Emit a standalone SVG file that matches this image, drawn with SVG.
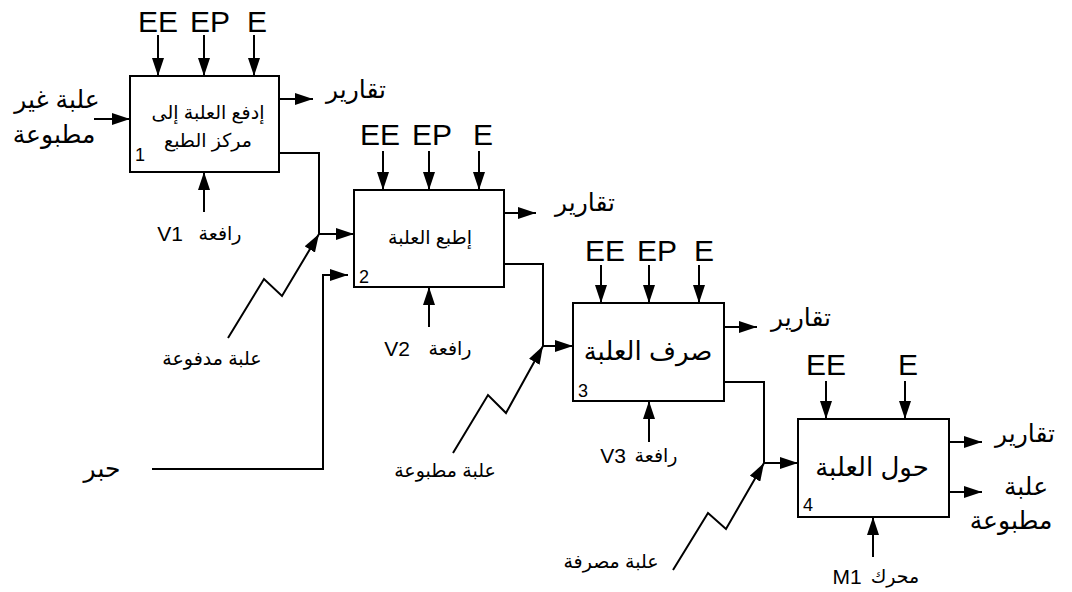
<svg xmlns="http://www.w3.org/2000/svg" width="1072" height="592" viewBox="0 0 1072 592">
<style>
.box{fill:#fff;stroke:#000;stroke-width:2}
.ln{fill:none;stroke:#000;stroke-width:2;marker-end:url(#ah)}
text{font-family:"Liberation Sans","DejaVu Sans",sans-serif;fill:#000;text-anchor:middle}
.big{font-size:30px}
.ar{font-size:25px}
.lab{font-size:19px}
.vv{font-size:21px}
.num{font-size:18px;text-anchor:start}
.bt{font-size:19px}
.bt2{font-size:26px}
</style>
<defs>
<marker id="ah" markerUnits="userSpaceOnUse" markerWidth="18" markerHeight="12" refX="18" refY="6" orient="auto">
<path d="M0,0 L18,6 L0,12 z" fill="#000"/>
</marker>
</defs>
<rect width="1072" height="592" fill="#fff"/>

<g id="connectors">
<line class="ln" x1="158" y1="35" x2="158" y2="76"/>
<line class="ln" x1="204" y1="35" x2="204" y2="76"/>
<line class="ln" x1="254" y1="35" x2="254" y2="76"/>
<line class="ln" x1="94" y1="119" x2="130" y2="119"/>
<line class="ln" x1="279" y1="99" x2="313" y2="99"/>
<line class="ln" x1="204" y1="212" x2="204" y2="172"/>
<polyline class="ln" points="279,153 319,153 319,234 354,234"/>
<polyline class="ln" points="228,338 264,279 282,296 319,234"/>
<polyline class="ln" points="152,469 323,469 323,275 348,275"/>
<line class="ln" x1="383" y1="151" x2="383" y2="190"/>
<line class="ln" x1="429" y1="151" x2="429" y2="190"/>
<line class="ln" x1="479" y1="151" x2="479" y2="190"/>
<line class="ln" x1="504" y1="213" x2="536" y2="213"/>
<line class="ln" x1="429" y1="327" x2="429" y2="287"/>
<polyline class="ln" points="504,264 543,264 543,346 573,346"/>
<polyline class="ln" points="453,453 488,395 506,413 543,346"/>
<line class="ln" x1="601" y1="265" x2="601" y2="303"/>
<line class="ln" x1="649" y1="265" x2="649" y2="303"/>
<line class="ln" x1="699" y1="265" x2="699" y2="303"/>
<line class="ln" x1="724" y1="327" x2="757" y2="327"/>
<line class="ln" x1="649" y1="442" x2="649" y2="401"/>
<polyline class="ln" points="724,382 764,382 764,463 798,463"/>
<polyline class="ln" points="673,570 708,513 726,529 764,463"/>
<line class="ln" x1="826" y1="381" x2="826" y2="419"/>
<line class="ln" x1="905" y1="381" x2="905" y2="419"/>
<line class="ln" x1="949" y1="442" x2="982" y2="442"/>
<line class="ln" x1="949" y1="492" x2="982" y2="492"/>
<line class="ln" x1="873" y1="557" x2="873" y2="517"/>
</g>

<g id="node1">
<rect class="box" x="130" y="76" width="149" height="96"/>
<text class="bt" x="208" y="119">إدفع العلبة إلى</text>
<text class="bt" x="208" y="147">مركز الطبع</text>
<text class="num" x="135" y="161">1</text>
</g>
<g id="node2">
<rect class="box" x="354" y="190" width="150" height="97"/>
<text class="bt" x="430" y="244">إطبع العلبة</text>
<text class="num" x="359" y="283">2</text>
</g>
<g id="node3">
<rect class="box" x="573" y="303" width="151" height="98"/>
<text class="bt2" x="648" y="360">صرف العلبة</text>
<text class="num" x="578" y="397">3</text>
</g>
<g id="node4">
<rect class="box" x="798" y="419" width="151" height="98"/>
<text class="bt2" x="872" y="476">حول العلبة</text>
<text class="num" x="803" y="511">4</text>
</g>

<g id="labels">
<text class="big" x="158" y="32">EE</text>
<text class="big" x="210" y="32">EP</text>
<text class="big" x="257" y="32">E</text>
<text class="big" x="380" y="145">EE</text>
<text class="big" x="432" y="145">EP</text>
<text class="big" x="483" y="145">E</text>
<text class="big" x="605" y="261">EE</text>
<text class="big" x="657" y="261">EP</text>
<text class="big" x="704" y="261">E</text>
<text class="big" x="826" y="375">EE</text>
<text class="big" x="908" y="375">E</text>

<text class="ar" x="57" y="108">علبة غير</text>
<text class="ar" x="54" y="143">مطبوعة</text>
<text class="ar" x="356" y="98">تقارير</text>
<text class="ar" x="585" y="211">تقارير</text>
<text class="ar" x="801" y="326">تقارير</text>
<text class="ar" x="1025" y="442">تقارير</text>
<text class="ar" x="1026" y="495">علبة</text>
<text class="ar" x="1011" y="529">مطبوعة</text>
<text class="ar" x="102" y="477">حبر</text>

<text class="vv" x="170" y="241">V1</text>
<text class="lab" x="220" y="240">رافعة</text>
<text class="vv" x="397" y="356">V2</text>
<text class="lab" x="450" y="355">رافعة</text>
<text class="vv" x="613" y="463">V3</text>
<text class="lab" x="656" y="462">رافعة</text>
<text class="vv" x="847" y="584">M1</text>
<text class="lab" x="895" y="583">محرك</text>

<text class="lab" x="212" y="365">علبة مدفوعة</text>
<text class="lab" x="445" y="477">علبة مطبوعة</text>
<text class="lab" x="611" y="568">علبة مصرفة</text>
</g>
</svg>
